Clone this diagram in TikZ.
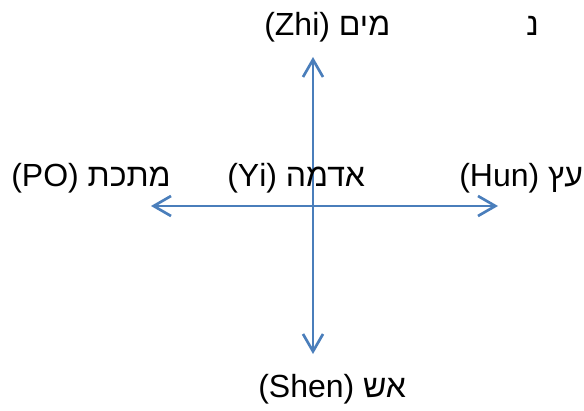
\documentclass[tikz,border=0pt]{standalone}
\usepackage{fontspec}
\setmainfont{Liberation Sans}
\newfontfamily\hebfont[Script=Hebrew]{Liberation Sans}
\TeXXeTstate=1
\usetikzlibrary{arrows.meta}
\definecolor{axisblue}{HTML}{4A7EBB}

\begin{document}
\begin{tikzpicture}[x=0.75pt,y=-0.75pt,
    lbl/.style={anchor=base west,inner sep=0pt,font=\hebfont\fontsize{24}{28}\selectfont},
    axis/.style={axisblue,line width=2pt,{Straight Barb[length=13pt,width=15pt]}-{Straight Barb[length=13pt,width=15pt]}}]
  \useasboundingbox (0,0) rectangle (584,410);
  % end points of the two axes
  \coordinate (pWest) at (151,206);
  \coordinate (pEast) at (498,206);
  \coordinate (pNorth) at (313,57);
  \coordinate (pSouth) at (313,354);
  \draw[axis] (pWest) -- (pEast);
  \draw[axis] (pNorth) -- (pSouth);
  % labels
  \node[lbl] (zhi) at (264,36) {\beginR מים \beginL(Zhi)\endL\endR};
  \node[lbl] (nun) at (526,36) {\beginR נ\endR};
  \node[lbl] (po) at (11,186) {\beginR מתכת \beginL(PO)\endL\endR};
  \node[lbl] (yi) at (227,186) {\beginR אדמה \beginL(Yi)\endL\endR};
  \node[lbl] (hun) at (459,186) {\beginR עץ \beginL(Hun)\endL\endR};
  \node[lbl] (shen) at (258,397) {\beginR אש \beginL(Shen)\endL\endR};
\end{tikzpicture}
\end{document}
